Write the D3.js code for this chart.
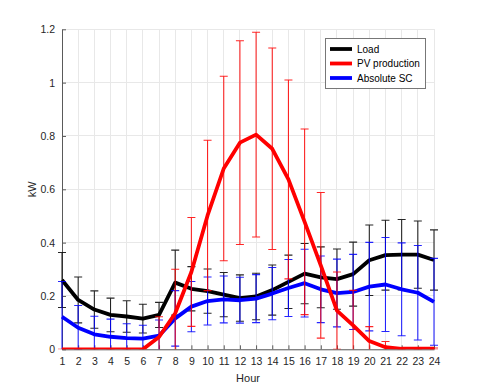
<!DOCTYPE html>
<html>
<head>
<meta charset="utf-8">
<script src="https://cdn.jsdelivr.net/npm/d3@7"></script>
<style>
  html, body { margin: 0; padding: 0; background: #fff; }
  svg { display: block; font-family: "Liberation Sans", Arial, sans-serif; }
</style>
</head>
<body>
<svg id="chart" width="480" height="392"></svg>
<script>
const hours = d3.range(1, 25);
const loadMean = [0.26,0.185,0.149,0.129,0.123,0.115,0.129,0.25,0.227,0.218,0.205,0.192,0.198,0.222,0.253,0.284,0.27,0.263,0.282,0.334,0.353,0.355,0.355,0.335];
const loadStd  = [0.103,0.086,0.07,0.063,0.059,0.054,0.047,0.122,0.083,0.083,0.083,0.087,0.087,0.094,0.1,0.113,0.114,0.113,0.12,0.132,0.131,0.132,0.126,0.113];
const pvMean   = [0,0,0,0,0,0,0.046,0.135,0.29,0.502,0.678,0.775,0.805,0.752,0.637,0.478,0.315,0.145,0.09,0.031,0.008,0.002,0.002,0.002];
const pvStd    = [0,0,0,0,0,0,0.076,0.165,0.204,0.282,0.346,0.382,0.384,0.378,0.373,0.348,0.273,0.145,0.131,0.054,0.021,0.003,0.003,0.003];
const scMean   = [0.122,0.081,0.056,0.047,0.042,0.04,0.051,0.116,0.16,0.181,0.187,0.184,0.19,0.209,0.23,0.248,0.225,0.211,0.215,0.235,0.243,0.225,0.212,0.178];
const scStd    = [0.132,0.083,0.068,0.066,0.054,0.05,0.059,0.104,0.094,0.09,0.088,0.086,0.09,0.098,0.107,0.127,0.125,0.127,0.141,0.166,0.176,0.174,0.177,0.163];
const yTicks = [0, 0.2, 0.4, 0.6, 0.8, 1, 1.2];
const seriesNames = ["Load", "PV production", "Absolute SC"];
const seriesColors = ["#000000", "#ff0000", "#0000ff"];

const svg = d3.select("#chart");
const L = 62, R = 434, T = 29.3, B = 349.3;
const x = d3.scaleLinear().domain([1, 24]).range([L, R]);
const y = d3.scaleLinear().domain([0, 1.2]).range([B, T]);

svg.append("defs").append("clipPath").attr("id", "clip")
  .append("rect").attr("x", L - 6).attr("y", T - 6).attr("width", R - L + 12).attr("height", B - T + 6);

// grid
const grid = svg.append("g");
grid.selectAll(".gx").data(hours).enter().append("line")
  .attr("x1", d => x(d)).attr("x2", d => x(d)).attr("y1", T).attr("y2", B)
  .attr("stroke", "#e8e8e8").attr("stroke-width", 1).attr("shape-rendering", "crispEdges");
grid.selectAll(".gy").data(yTicks).enter().append("line")
  .attr("x1", L).attr("x2", R).attr("y1", d => y(d)).attr("y2", d => y(d))
  .attr("stroke", "#e8e8e8").attr("stroke-width", 1).attr("shape-rendering", "crispEdges");

// axes
const xAxis = d3.axisBottom(x).tickValues(hours).tickSizeInner(-4).tickSizeOuter(0).tickPadding(8);
const yAxis = d3.axisLeft(y).tickValues(yTicks).tickSizeInner(-4).tickSizeOuter(0).tickPadding(7)
  .tickFormat(d => d3.format("")(d));
const gx = svg.append("g").attr("transform", `translate(0,${B})`).call(xAxis);
const gy = svg.append("g").attr("transform", `translate(${L},0)`).call(yAxis);
[gx, gy].forEach(g => {
  g.select(".domain").attr("stroke", "#5a5a5a");
  g.selectAll(".tick line").attr("stroke", "#5a5a5a");
  g.selectAll(".tick text").attr("fill", "#262626").style("font-size", "10.5px")
    .style("font-family", "Liberation Sans, Arial, sans-serif");
});

svg.append("text").attr("x", (L + R) / 2).attr("y", 382).attr("text-anchor", "middle")
  .attr("fill", "#262626").style("font-size", "11px").text("Hour");
svg.append("text").attr("transform", `translate(36,${(T + B) / 2}) rotate(-90)`).attr("text-anchor", "middle")
  .attr("fill", "#262626").style("font-size", "11px").text("kW");

const plot = svg.append("g").attr("clip-path", "url(#clip)");
const line = d3.line().x((d, i) => x(hours[i])).y(d => y(d));
const cap = 4;

function drawSeries(mean, std, color) {
  const g = plot.append("g");
  const data = hours.map((h, i) => ({ h, m: mean[i], s: std[i] }));
  g.selectAll(".eb").data(data).enter().append("path")
    .attr("d", d => {
      const xx = x(d.h), y1 = y(d.m + d.s), y0 = y(d.m - d.s);
      return `M${xx},${y0}V${y1}M${xx - cap},${y1}H${xx + cap}M${xx - cap},${y0}H${xx + cap}`;
    })
    .attr("fill", "none").attr("stroke", color).attr("stroke-width", 1.1).attr("stroke-opacity", 0.85);
  g.append("path").datum(mean).attr("d", line).attr("fill", "none")
    .attr("stroke", color).attr("stroke-width", 3.8).attr("stroke-linejoin", "round");
}
drawSeries(loadMean, loadStd, seriesColors[0]);
drawSeries(scMean, scStd, seriesColors[2]);
drawSeries(pvMean, pvStd, seriesColors[1]);

// legend
const lg = svg.append("g");
lg.append("rect").attr("x", 325.5).attr("y", 38.5).attr("width", 100).attr("height", 50)
  .attr("fill", "#fff").attr("stroke", "#777").attr("stroke-width", 1);
seriesNames.forEach((n, i) => {
  const yy = 49 + i * 14.5;
  lg.append("line").attr("x1", 330).attr("x2", 352).attr("y1", yy).attr("y2", yy)
    .attr("stroke", seriesColors[i]).attr("stroke-width", 3.8);
  lg.append("text").attr("x", 357).attr("y", yy + 3.6).attr("fill", "#000")
    .style("font-size", "10px").text(n);
});
</script>
</body>
</html>
